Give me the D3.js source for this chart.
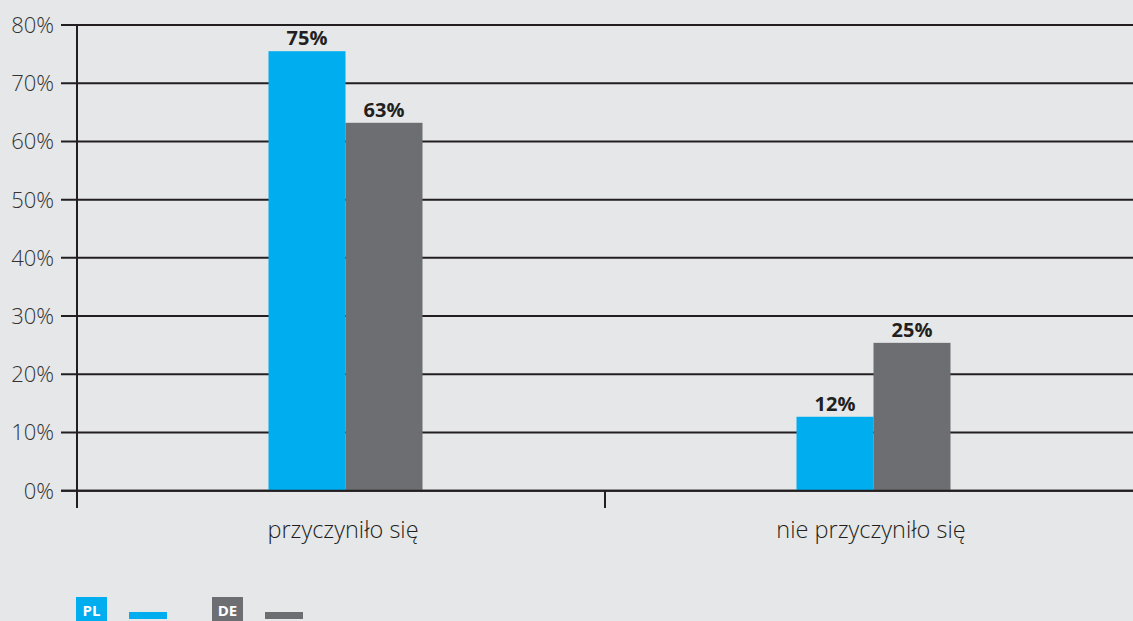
<!DOCTYPE html>
<html><head><meta charset="utf-8">
<script src="https://cdn.jsdelivr.net/npm/d3@7"></script>
<style>
html,body{margin:0;padding:0;background:#e6e7e9;}
svg{display:block;}
</style></head>
<body>
<svg id="c" width="1133" height="621"></svg>
<script>
const categories = ["przyczyniło się", "nie przyczyniło się"];
const seriesNames = ["PL", "DE"];
const seriesColors = ["#00aeef", "#6d6e71"];
const valuesPL = [75.5, 12.7];
const valuesDE = [63.2, 25.4];
const labelsPL = ["75%", "12%"];
const labelsDE = ["63%", "25%"];
const yTicks = [0, 10, 20, 30, 40, 50, 60, 70, 80];

(function () {
const svg = d3.select("#c");
const W = 1133, H = 621;
const mLeft = 77, mRight = 1133, mTop = 25, mBottom = 490.7;
const font = "'Open Sans', 'DejaVu Sans', sans-serif";

svg.append("rect").attr("width", W).attr("height", H).attr("fill", "#e6e7e9");

const y = d3.scaleLinear().domain([0, 80]).range([mBottom, mTop]);
const x0 = d3.scaleBand().domain(categories).range([mLeft, mRight]);
const x1 = d3.scaleBand().domain(seriesNames).range([191.5, 345.5]);

// gridlines
svg.append("g").selectAll("line").data(yTicks).join("line")
  .attr("x1", 61).attr("x2", W)
  .attr("y1", d => y(d)).attr("y2", d => y(d))
  .attr("stroke", "#231f20").attr("stroke-width", 2);

// y labels
svg.append("g").selectAll("text").data(yTicks).join("text")
  .attr("x", 54).attr("y", d => y(d))
  .attr("dy", "0.36em")
  .attr("text-anchor", "end")
  .attr("font-family", font).attr("font-size", 22).attr("font-weight", 300)
  .attr("fill", "#333")
  .text(d => d + "%");

// bars
const data = categories.map((c, i) => ({
  cat: c,
  vals: [
    {s: "PL", v: valuesPL[i], l: labelsPL[i], c: seriesColors[0]},
    {s: "DE", v: valuesDE[i], l: labelsDE[i], c: seriesColors[1]}
  ]
}));
const g = svg.append("g").selectAll("g").data(data).join("g")
  .attr("transform", d => `translate(${x0(d.cat)},0)`);
g.selectAll("rect").data(d => d.vals).join("rect")
  .attr("x", d => x1(d.s)).attr("width", x1.bandwidth())
  .attr("y", d => y(d.v)).attr("height", d => y(0) - y(d.v))
  .attr("fill", d => d.c);
g.selectAll("text").data(d => d.vals).join("text")
  .attr("x", d => x1(d.s) + x1.bandwidth() / 2)
  .attr("y", d => y(d.v) - 6)
  .attr("text-anchor", "middle")
  .attr("font-family", font).attr("font-size", 20).attr("font-weight", 700)
  .attr("fill", "#231f20")
  .text(d => d.l);

// redraw baseline over bars
svg.append("line").attr("x1", 61).attr("x2", W).attr("y1", y(0)).attr("y2", y(0))
  .attr("stroke", "#231f20").attr("stroke-width", 2);

// y axis line
svg.append("line").attr("x1", mLeft).attr("x2", mLeft).attr("y1", mTop).attr("y2", 508)
  .attr("stroke", "#231f20").attr("stroke-width", 2);
// category separators
svg.append("g").selectAll("line").data(categories.slice(1)).join("line")
  .attr("x1", d => x0(d)).attr("x2", d => x0(d))
  .attr("y1", y(0)).attr("y2", 508)
  .attr("stroke", "#231f20").attr("stroke-width", 2);

// category labels
svg.append("g").selectAll("text").data(categories).join("text")
  .attr("x", (d, i) => x0(d) + 266)
  .attr("y", 538)
  .attr("text-anchor", "middle")
  .attr("font-family", font).attr("font-size", 23.5).attr("font-weight", 300)
  .attr("fill", "#231f20")
  .text(d => d);

// legend
const legX = [76, 212];
const lg = svg.append("g").selectAll("g").data(seriesNames).join("g")
  .attr("transform", (d, i) => `translate(${legX[i]},597)`);
lg.append("rect").attr("width", 31).attr("height", 26).attr("fill", (d, i) => seriesColors[i]);
lg.append("text").attr("x", 15.5).attr("y", 18.5)
  .attr("text-anchor", "middle")
  .attr("font-family", font).attr("font-size", 15).attr("font-weight", 700)
  .attr("fill", "#fff").text(d => d);
lg.append("rect").attr("x", 53).attr("y", 15).attr("width", 38).attr("height", 7)
  .attr("fill", (d, i) => seriesColors[i]);
})();
</script>
</body></html>
